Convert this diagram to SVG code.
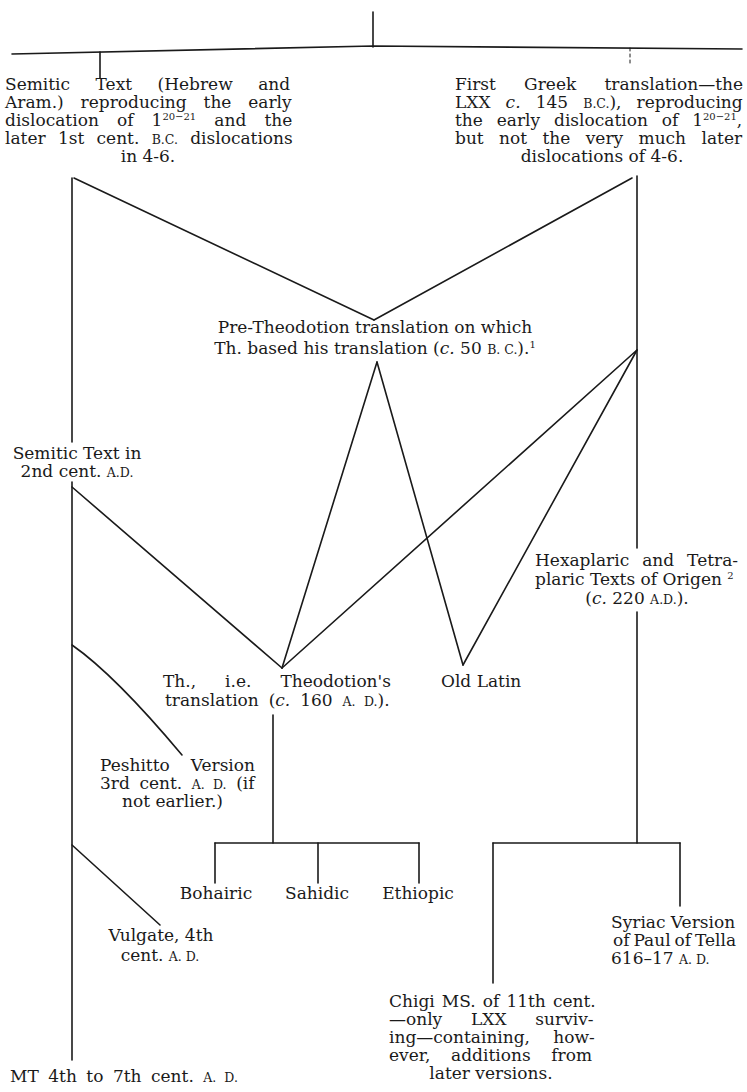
<svg xmlns="http://www.w3.org/2000/svg" width="747" height="1092" viewBox="0 0 747 1092">
<style>
.t{font-family:"DejaVu Serif","Liberation Serif",serif;font-size:17px;fill:#1a1a1a}
.sc{font-size:12.5px}
.it{font-style:italic}
.sup{font-size:10px}
.m{text-anchor:middle}
.ln{stroke:#1a1a1a;stroke-width:1.6;fill:none;stroke-linecap:round}
.dash{stroke-dasharray:3 3;stroke-width:1}
</style>
<rect width="747" height="1092" fill="#ffffff"/>
<g id="connectors">
<line class="ln" x1="373" y1="12" x2="373" y2="47"/>
<polyline class="ln" points="12,54 373,46 742,49"/>
<line class="ln" x1="100" y1="52" x2="100" y2="78"/>
<line class="ln dash" x1="630" y1="48" x2="630" y2="66"/>
<line class="ln" x1="72" y1="178" x2="72" y2="442"/>
<line class="ln" x1="74" y1="178" x2="374" y2="320"/>
<line class="ln" x1="632" y1="178" x2="374" y2="320"/>
<line class="ln" x1="637" y1="176" x2="637" y2="548"/>
<line class="ln" x1="377" y1="362" x2="282" y2="668"/>
<line class="ln" x1="377" y1="362" x2="463" y2="665"/>
<line class="ln" x1="637" y1="350" x2="282" y2="668"/>
<line class="ln" x1="637" y1="350" x2="463" y2="665"/>
<line class="ln" x1="72" y1="482" x2="72" y2="1060"/>
<line class="ln" x1="72" y1="487" x2="282" y2="668"/>
<path class="ln" d="M72,645 Q115,675 182,755"/>
<line class="ln" x1="72" y1="845" x2="160" y2="925"/>
<line class="ln" x1="273" y1="715" x2="273" y2="843"/>
<line class="ln" x1="215" y1="843" x2="419" y2="843"/>
<line class="ln" x1="215" y1="843" x2="215" y2="883"/>
<line class="ln" x1="318" y1="843" x2="318" y2="883"/>
<line class="ln" x1="419" y1="843" x2="419" y2="883"/>
<line class="ln" x1="637" y1="612" x2="637" y2="843"/>
<line class="ln" x1="493" y1="843" x2="680" y2="843"/>
<line class="ln" x1="493" y1="843" x2="493" y2="983"/>
<line class="ln" x1="680" y1="843" x2="680" y2="906"/>
</g>
<g id="semitic-text">
<text class="t" x="5" y="90" word-spacing="20.1">Semitic Text (Hebrew and</text>
<text class="t" x="5" y="108" word-spacing="11.5">Aram.) reproducing the early</text>
<text class="t" x="5" y="126" word-spacing="12.7">dislocation of 1<tspan class="sup" dy="-6">20−21</tspan><tspan dy="6"> and the</tspan></text>
<text class="t" x="5" y="144" word-spacing="6.9">later 1st cent. <tspan class="sc">B.C.</tspan> dislocations</text>
<text class="t m" x="148" y="162">in 4-6.</text>
</g>
<g id="first-greek">
<text class="t" x="455" y="90" word-spacing="22.8">First Greek translation—the</text>
<text class="t" x="455" y="108" word-spacing="9.7">LXX <tspan class="it">c.</tspan> 145 <tspan class="sc">B.C.</tspan>), reproducing</text>
<text class="t" x="455" y="126" word-spacing="8.5">the early dislocation of 1<tspan class="sup" dy="-6">20−21</tspan><tspan dy="6">,</tspan></text>
<text class="t" x="455" y="144" word-spacing="10">but not the very much later</text>
<text class="t m" x="602" y="162">dislocations of 4-6.</text>
</g>
<g id="pre-theodotion">
<text class="t m" x="375" y="333">Pre-Theodotion translation on which</text>
<text class="t m" x="375" y="354">Th. based his translation (<tspan class="it">c.</tspan> 50 <tspan class="sc">B. C.</tspan>).<tspan class="sup" dy="-6">1</tspan></text>
</g>
<g id="semitic-2nd">
<text class="t m" x="77" y="459">Semitic Text in</text>
<text class="t m" x="77" y="477">2nd cent. <tspan class="sc">A.D.</tspan></text>
</g>
<g id="hexaplaric">
<text class="t" x="535" y="566" word-spacing="7.6">Hexaplaric and Tetra-</text>
<text class="t" x="535" y="585">plaric Texts of Origen <tspan class="sup" dy="-6">2</tspan></text>
<text class="t m" x="637" y="604">(<tspan class="it">c.</tspan> 220 <tspan class="sc">A.D.</tspan>).</text>
</g>
<g id="theodotion">
<text class="t" x="163" y="687" word-spacing="23.6">Th., i.e. Theodotion's</text>
<text class="t" x="165" y="706" word-spacing="4.5">translation (<tspan class="it">c.</tspan> 160 <tspan class="sc">A. D.</tspan>).</text>
</g>
<g id="old-latin">
<text class="t" x="441" y="687">Old Latin</text>
</g>
<g id="peshitto">
<text class="t" x="100" y="771" word-spacing="15.6">Peshitto Version</text>
<text class="t" x="100" y="789" word-spacing="4.2">3rd cent. <tspan class="sc">A. D.</tspan> (if</text>
<text class="t" x="122" y="807">not earlier.)</text>
</g>
<g id="bohairic"><text class="t m" x="216" y="899">Bohairic</text></g>
<g id="sahidic"><text class="t m" x="317" y="899">Sahidic</text></g>
<g id="ethiopic"><text class="t m" x="418" y="899">Ethiopic</text></g>
<g id="vulgate">
<text class="t m" x="161" y="941">Vulgate, 4th</text>
<text class="t m" x="160" y="961">cent. <tspan class="sc">A. D.</tspan></text>
</g>
<g id="syriac">
<text class="t" x="611" y="928">Syriac Version</text>
<text class="t" x="613" y="946" word-spacing="-1.5">of Paul of Tella</text>
<text class="t" x="611" y="964">616–17 <tspan class="sc">A. D.</tspan></text>
</g>
<g id="chigi">
<text class="t" x="389" y="1007" word-spacing="1.7">Chigi MS. of 11th cent.</text>
<text class="t" x="389" y="1025" word-spacing="23.4">—only LXX surviv-</text>
<text class="t" x="389" y="1043" word-spacing="17.8">ing—containing, how-</text>
<text class="t" x="389" y="1061" word-spacing="15.3">ever, additions from</text>
<text class="t m" x="491" y="1079">later versions.</text>
</g>
<g id="mt">
<text class="t" x="10" y="1082" word-spacing="4.1">MT 4th to 7th cent. <tspan class="sc">A. D.</tspan></text>
</g>
</svg>
